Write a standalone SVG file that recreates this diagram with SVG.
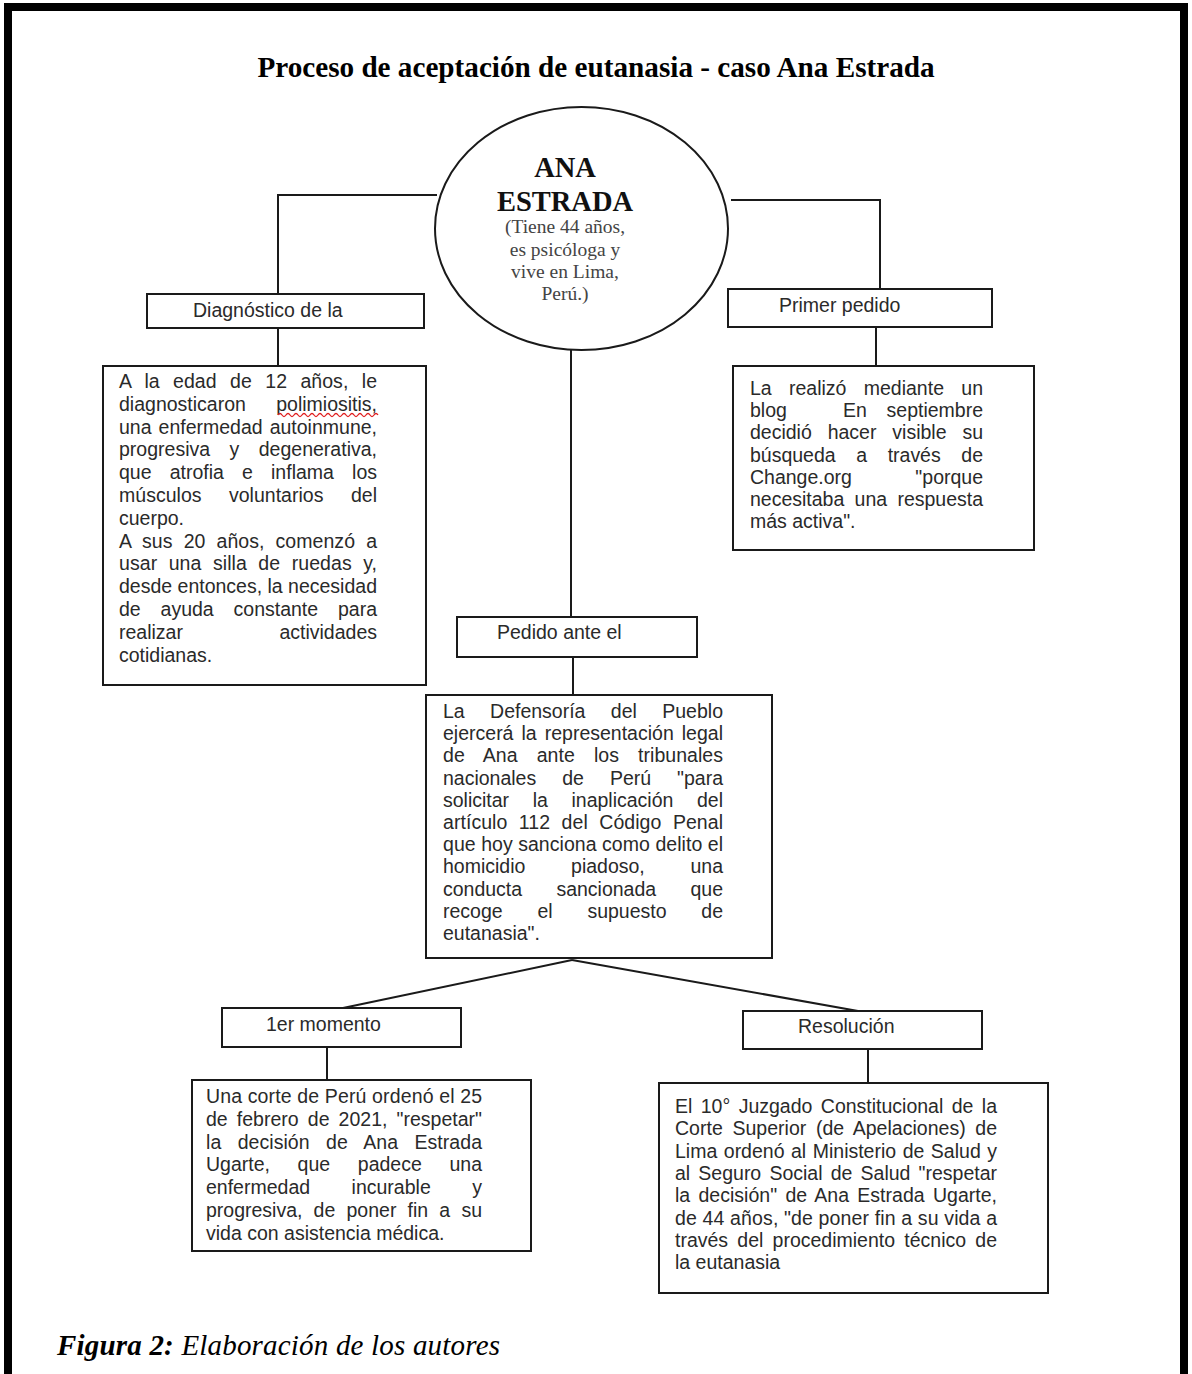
<svg xmlns="http://www.w3.org/2000/svg" width="1192" height="1374" viewBox="0 0 1192 1374">
<style>
.frame{fill:none;stroke:#000;stroke-width:8}
.box{fill:#fff;stroke:#1a1a1a;stroke-width:2}
.conn{fill:none;stroke:#1a1a1a;stroke-width:2}
.t{font-family:"Liberation Sans",Arial,sans-serif;font-size:19.5px;fill:#2a2a2a}
.title{font-family:"Liberation Serif","Times New Roman",serif;font-size:29.2px;font-weight:bold;fill:#000}
.big{font-family:"Liberation Serif","Times New Roman",serif;font-size:28.5px;font-weight:bold;fill:#111}
.sm{font-family:"Liberation Serif","Times New Roman",serif;font-size:19.5px;fill:#444}
.cap{font-family:"Liberation Serif","Times New Roman",serif;font-size:29px;font-style:italic;fill:#000}
</style>
<path class="frame" d="M8,1390 V7 H1184 V1390"/>
<text class="title" x="596" y="77" text-anchor="middle">Proceso de aceptación de eutanasia - caso Ana Estrada</text>

<g id="connectors">
<polyline class="conn" points="437,195 278,195 278,294"/>
<line class="conn" x1="278" y1="328" x2="278" y2="366"/>
<polyline class="conn" points="731,200 880,200 880,289"/>
<line class="conn" x1="876" y1="327" x2="876" y2="366"/>
<line class="conn" x1="571" y1="350" x2="571" y2="617"/>
<line class="conn" x1="573" y1="657" x2="573" y2="695"/>
<line class="conn" x1="572" y1="960" x2="343" y2="1008"/>
<line class="conn" x1="572" y1="960" x2="858" y2="1011"/>
<line class="conn" x1="327" y1="1047" x2="327" y2="1080"/>
<line class="conn" x1="868" y1="1049" x2="868" y2="1083"/>
</g>

<g id="ana">
<ellipse class="box" cx="581.5" cy="228.5" rx="146.5" ry="121.5"/>
<text class="big" x="565" y="177" text-anchor="middle">ANA</text>
<text class="big" x="565" y="211" text-anchor="middle">ESTRADA</text>
<text class="sm" x="565" y="233" text-anchor="middle">(Tiene 44 años,</text>
<text class="sm" x="565" y="256" text-anchor="middle">es psicóloga y</text>
<text class="sm" x="565" y="278" text-anchor="middle">vive en Lima,</text>
<text class="sm" x="565" y="300" text-anchor="middle">Perú.)</text>
</g>

<g id="diagnostico">
<rect class="box" x="147" y="294" width="277" height="34"/>
<text class="t" x="193" y="317">Diagnóstico de la</text>
</g>

<g id="diagnostico-texto">
<rect class="box" x="103" y="366" width="323" height="319"/>
<text class="t" x="119" y="388" word-spacing="8" textLength="258" lengthAdjust="spacing">A la edad de 12 años, le</text>
<text class="t" x="119" y="410.8" word-spacing="25" textLength="258" lengthAdjust="spacing">diagnosticaron polimiositis,</text>
<path d="M278,415 q2,-3 4,0 t4,0 t4,0 t4,0 t4,0 t4,0 t4,0 t4,0 t4,0 t4,0 t4,0 t4,0 t4,0 t4,0 t4,0 t4,0 t4,0 t4,0 t4,0 t4,0 t4,0 t4,0 t4,0 t4,0 t4,0" fill="none" stroke="#e02020" stroke-width="1.3"/>
<text class="t" x="119" y="433.6" word-spacing="1.6" textLength="258" lengthAdjust="spacing">una enfermedad autoinmune,</text>
<text class="t" x="119" y="456.4" word-spacing="14" textLength="258" lengthAdjust="spacing">progresiva y degenerativa,</text>
<text class="t" x="119" y="479.2" word-spacing="12.7" textLength="258" lengthAdjust="spacing">que atrofia e inflama los</text>
<text class="t" x="119" y="502" word-spacing="22" textLength="258" lengthAdjust="spacing">músculos voluntarios del</text>
<text class="t" x="119" y="524.8">cuerpo.</text>
<text class="t" x="119" y="547.6" word-spacing="5.6" textLength="258" lengthAdjust="spacing">A sus 20 años, comenzó a</text>
<text class="t" x="119" y="570.4" word-spacing="6" textLength="258" lengthAdjust="spacing">usar una silla de ruedas y,</text>
<text class="t" x="119" y="593.2" textLength="258" lengthAdjust="spacing">desde entonces, la necesidad</text>
<text class="t" x="119" y="616" word-spacing="14.5" textLength="258" lengthAdjust="spacing">de ayuda constante para</text>
<text class="t" y="638.8"><tspan x="119">realizar</tspan><tspan x="377" text-anchor="end">actividades</tspan></text>
<text class="t" x="119" y="661.6">cotidianas.</text>
</g>

<g id="primer-pedido">
<rect class="box" x="728" y="289" width="264" height="38"/>
<text class="t" x="779" y="312">Primer pedido</text>
</g>

<g id="primer-pedido-texto">
<rect class="box" x="733" y="366" width="301" height="184"/>
<text class="t" x="750" y="395" word-spacing="11.9" textLength="233" lengthAdjust="spacing">La realizó mediante un</text>
<text class="t" y="417.2"><tspan x="750">blog</tspan><tspan x="843">En</tspan><tspan x="983" text-anchor="end">septiembre</tspan></text>
<text class="t" x="750" y="439.4" word-spacing="10.5" textLength="233" lengthAdjust="spacing">decidió hacer visible su</text>
<text class="t" x="750" y="461.6" word-spacing="15.2" textLength="233" lengthAdjust="spacing">búsqueda a través de</text>
<text class="t" y="483.8"><tspan x="750">Change.org</tspan><tspan x="983" text-anchor="end">"porque</tspan></text>
<text class="t" x="750" y="506" word-spacing="4.9" textLength="233" lengthAdjust="spacing">necesitaba una respuesta</text>
<text class="t" x="750" y="528.2">más activa".</text>
</g>

<g id="pedido-ante">
<rect class="box" x="457" y="617" width="240" height="40"/>
<text class="t" x="497" y="639">Pedido ante el</text>
</g>

<g id="pedido-ante-texto">
<rect class="box" x="426" y="695" width="346" height="263"/>
<text class="t" x="443" y="718" word-spacing="20" textLength="280" lengthAdjust="spacing">La Defensoría del Pueblo</text>
<text class="t" x="443" y="740.2" word-spacing="2.6" textLength="280" lengthAdjust="spacing">ejercerá la representación legal</text>
<text class="t" x="443" y="762.4" word-spacing="13.6" textLength="280" lengthAdjust="spacing">de Ana ante los tribunales</text>
<text class="t" x="443" y="784.6" word-spacing="20.6" textLength="280" lengthAdjust="spacing">nacionales de Perú "para</text>
<text class="t" x="443" y="806.8" word-spacing="18.2" textLength="280" lengthAdjust="spacing">solicitar la inaplicación del</text>
<text class="t" x="443" y="829" word-spacing="6" textLength="280" lengthAdjust="spacing">artículo 112 del Código Penal</text>
<text class="t" x="443" y="851.2" textLength="280" lengthAdjust="spacing">que hoy sanciona como delito el</text>
<text class="t" x="443" y="873.4" word-spacing="40.3" textLength="280" lengthAdjust="spacing">homicidio piadoso, una</text>
<text class="t" x="443" y="895.6" word-spacing="28.9" textLength="280" lengthAdjust="spacing">conducta sancionada que</text>
<text class="t" x="443" y="917.8" word-spacing="29.4" textLength="280" lengthAdjust="spacing">recoge el supuesto de</text>
<text class="t" x="443" y="940">eutanasia".</text>
</g>

<g id="primer-momento">
<rect class="box" x="222" y="1008" width="239" height="39"/>
<text class="t" x="266" y="1031">1er momento</text>
</g>

<g id="primer-momento-texto">
<rect class="box" x="192" y="1080" width="339" height="171"/>
<text class="t" x="206" y="1103" textLength="276" lengthAdjust="spacing">Una corte de Perú ordenó el 25</text>
<text class="t" x="206" y="1125.8" word-spacing="3.7" textLength="276" lengthAdjust="spacing">de febrero de 2021, "respetar"</text>
<text class="t" x="206" y="1148.6" word-spacing="11" textLength="276" lengthAdjust="spacing">la decisión de Ana Estrada</text>
<text class="t" x="206" y="1171.4" word-spacing="22.3" textLength="276" lengthAdjust="spacing">Ugarte, que padece una</text>
<text class="t" x="206" y="1194.2" word-spacing="36.1" textLength="276" lengthAdjust="spacing">enfermedad incurable y</text>
<text class="t" x="206" y="1217" word-spacing="5.8" textLength="276" lengthAdjust="spacing">progresiva, de poner fin a su</text>
<text class="t" x="206" y="1239.8">vida con asistencia médica.</text>
</g>

<g id="resolucion">
<rect class="box" x="743" y="1011" width="239" height="38"/>
<text class="t" x="798" y="1033">Resolución</text>
</g>

<g id="resolucion-texto">
<rect class="box" x="659" y="1083" width="389" height="210"/>
<text class="t" x="675" y="1113" word-spacing="3" textLength="322" lengthAdjust="spacing">El 10° Juzgado Constitucional de la</text>
<text class="t" x="675" y="1135.3" word-spacing="4.1" textLength="322" lengthAdjust="spacing">Corte Superior (de Apelaciones) de</text>
<text class="t" x="675" y="1157.6" word-spacing="1.1" textLength="322" lengthAdjust="spacing">Lima ordenó al Ministerio de Salud y</text>
<text class="t" x="675" y="1179.9" word-spacing="2.8" textLength="322" lengthAdjust="spacing">al Seguro Social de Salud "respetar</text>
<text class="t" x="675" y="1202.2" word-spacing="2.8" textLength="322" lengthAdjust="spacing">la decisión" de Ana Estrada Ugarte,</text>
<text class="t" x="675" y="1224.5" textLength="322" lengthAdjust="spacing">de 44 años, "de poner fin a su vida a</text>
<text class="t" x="675" y="1246.8" word-spacing="3.8" textLength="322" lengthAdjust="spacing">través del procedimiento técnico de</text>
<text class="t" x="675" y="1269.1">la eutanasia</text>
</g>

<text class="cap" x="57" y="1355" textLength="443" lengthAdjust="spacing"><tspan font-weight="bold">Figura 2:</tspan> Elaboración de los autores</text>
</svg>
